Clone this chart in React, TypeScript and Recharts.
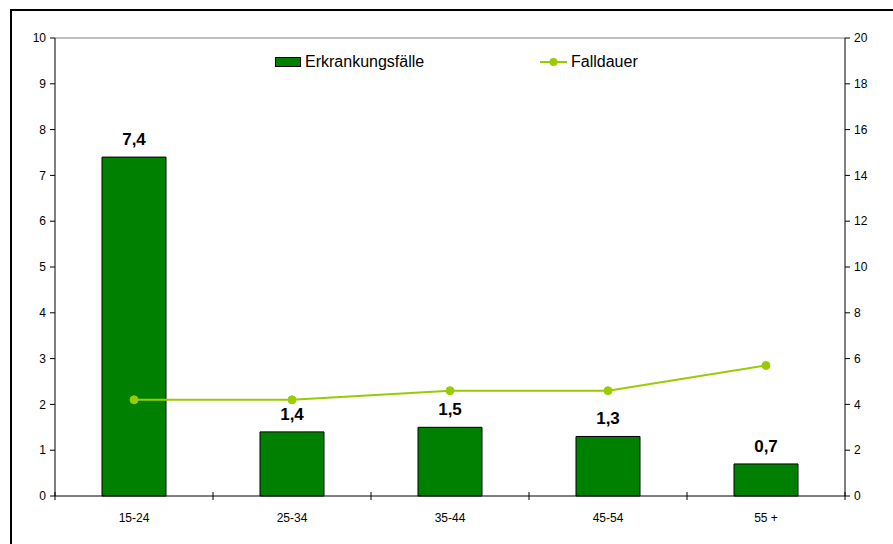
import React from 'react';
import { ComposedChart, Bar, Line, XAxis, YAxis, LabelList, ReferenceLine } from 'recharts';

const categories = ['15-24', '25-34', '35-44', '45-54', '55 +'];
const erkrankungsfaelle = [7.4, 1.4, 1.5, 1.3, 0.7];
const falldauer = [4.2, 4.2, 4.6, 4.6, 5.7];
const leftTicks = [0, 1, 2, 3, 4, 5, 6, 7, 8, 9, 10];
const rightTicks = [0, 2, 4, 6, 8, 10, 12, 14, 16, 18, 20];

const data = categories.map((c, i) => ({ cat: c, faelle: erkrankungsfaelle[i], dauer: falldauer[i] }));

const FONT = '"Liberation Sans", Arial, sans-serif';
const BAR_GREEN = '#008000';
const LINE_GREEN = '#99cc00';

const XTick = (props: any) => {
  const { x, y, payload, index, visibleTicksCount } = props;
  const half = 790 / 5 / 2;
  return (
    <g>
      <line x1={x - half} x2={x - half} y1={y - 12} y2={y - 4} stroke="#000" />
      {index === (visibleTicksCount ?? 5) - 1 && (
        <line x1={x + half} x2={x + half} y1={y - 12} y2={y - 4} stroke="#000" />
      )}
      <text x={x} y={y + 18} textAnchor="middle" fontFamily={FONT} fontSize={12} fill="#000">
        {payload.value}
      </text>
    </g>
  );
};

const LegendOverlay = () => (
  <div style={{ position: 'absolute', left: 0, top: 52, width: 893, height: 20, fontFamily: FONT, fontSize: 16, color: '#000' }}>
    <div style={{ position: 'absolute', left: 275, top: 5, width: 26, height: 10, background: BAR_GREEN, border: '1px solid #000', boxSizing: 'border-box' }} />
    <span style={{ position: 'absolute', left: 305, top: 0, lineHeight: '20px' }}>Erkrankungsfälle</span>
    <svg style={{ position: 'absolute', left: 540, top: 2 }} width={27} height={16}>
      <line x1={0} x2={27} y1={8} y2={8} stroke={LINE_GREEN} strokeWidth={2} />
      <circle cx={13.5} cy={8} r={4} fill={LINE_GREEN} />
    </svg>
    <span style={{ position: 'absolute', left: 571, top: 0, lineHeight: '20px' }}>Falldauer</span>
  </div>
);

const fmt = (v: any) => String(v).replace('.', ',');

export default function App() {
  return (
    <div style={{ position: 'absolute', left: 0, top: 0, width: 893, height: 544, overflow: 'hidden', background: '#fff' }}>
      <div style={{ position: 'absolute', left: 10, top: 9, width: 900, height: 600, border: '2px solid #000', boxSizing: 'border-box' }} />
      <div style={{ position: 'absolute', left: 0, top: 0 }}>
        <ComposedChart width={893} height={544} data={data} margin={{ top: 38, right: 0, bottom: 18, left: 0 }} barCategoryGap={47}>
          <XAxis
            dataKey="cat"
            xAxisId="x"
            tick={<XTick />}
            tickLine={false}
            axisLine={{ stroke: '#000' }}
            height={30}
            interval={0}
          />
          <YAxis
            yAxisId="left"
            orientation="left"
            domain={[0, 10]}
            ticks={leftTicks}
            interval={0}
            width={55}
            axisLine={{ stroke: '#000' }}
            tickLine={{ stroke: '#000' }}
            tickSize={5}
            tickMargin={4}
            tick={{ fontFamily: FONT, fontSize: 12, fill: '#000' }}
          />
          <YAxis
            yAxisId="right"
            orientation="right"
            domain={[0, 20]}
            ticks={rightTicks}
            interval={0}
            width={48}
            axisLine={{ stroke: '#000' }}
            tickLine={{ stroke: '#000' }}
            tickSize={5}
            tickMargin={4}
            tick={{ fontFamily: FONT, fontSize: 12, fill: '#000' }}
          />
          <ReferenceLine yAxisId="left" xAxisId="x" y={10} stroke="#808080" />
          <Bar
            xAxisId="x"
            yAxisId="left"
            dataKey="faelle"
            name="Erkrankungsfälle"
            fill={BAR_GREEN}
            stroke="#000"
            strokeWidth={1}
            barSize={64}
            isAnimationActive={false}
          >
            <LabelList
              dataKey="faelle"
              position="top"
              offset={12}
              formatter={fmt}
              style={{ fontFamily: FONT, fontSize: 17, fontWeight: 'bold', fill: '#000' }}
            />
          </Bar>
          <Line
            xAxisId="x"
            yAxisId="right"
            dataKey="dauer"
            name="Falldauer"
            type="linear"
            stroke={LINE_GREEN}
            strokeWidth={2}
            dot={{ r: 4, fill: LINE_GREEN, stroke: LINE_GREEN, strokeWidth: 1 }}
            isAnimationActive={false}
          />
        </ComposedChart>
      </div>
      <LegendOverlay />
    </div>
  );
}
